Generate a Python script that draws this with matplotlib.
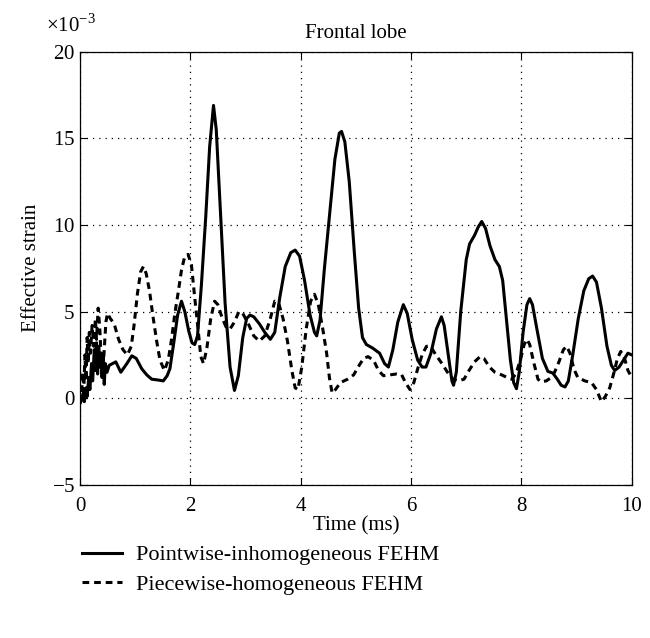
"""Frontal lobe effective strain: pointwise vs piecewise FEHM."""
import matplotlib
matplotlib.use("Agg")
import matplotlib.pyplot as plt
from matplotlib.ticker import ScalarFormatter

plt.rcParams.update({
    "font.family": "Liberation Serif",
    "mathtext.fontset": "custom",
    "mathtext.rm": "Liberation Serif",
    "font.size": 15,
})

# time (ms) and strain (x1e-3)
t_point = [0.0, 0.03, 0.06, 0.08, 0.11, 0.13, 0.16, 0.18, 0.21, 0.23, 0.26, 0.28, 0.30, 0.32,
           0.34, 0.36, 0.38, 0.40, 0.42, 0.44, 0.46, 0.49, 0.53, 0.65, 0.74, 0.85, 0.94, 1.02,
           1.12, 1.21, 1.30, 1.42, 1.51, 1.58, 1.63, 1.70, 1.77, 1.84, 1.90, 1.97, 2.03, 2.08,
           2.13, 2.20, 2.28, 2.35, 2.42, 2.47, 2.55, 2.63, 2.72, 2.80, 2.87, 2.95, 3.02, 3.08,
           3.15, 3.25, 3.35, 3.45, 3.53, 3.62, 3.72, 3.82, 3.90, 3.98, 4.07, 4.17, 4.25, 4.29,
           4.35, 4.43, 4.53, 4.62, 4.70, 4.74, 4.80, 4.88, 4.97, 5.05, 5.12, 5.19, 5.30, 5.43,
           5.52, 5.59, 5.67, 5.76, 5.86, 5.93, 6.02, 6.12, 6.20, 6.27, 6.36, 6.46, 6.55, 6.60,
           6.67, 6.74, 6.77, 6.82, 6.90, 7.00, 7.06, 7.15, 7.22, 7.28, 7.35, 7.43, 7.52, 7.60,
           7.66, 7.73, 7.80, 7.86, 7.91, 7.96, 8.03, 8.10, 8.15, 8.20, 8.28, 8.38, 8.48, 8.57,
           8.65, 8.72, 8.79, 8.85, 8.93, 9.03, 9.13, 9.22, 9.29, 9.36, 9.45, 9.55, 9.63, 9.69,
           9.77, 9.85, 9.93, 10.0]
s_point = [-0.3, -0.1, 0.3, -0.2, 0.6, 0.1, 1.2, 0.5, 2.0, 1.0, 2.8, 1.6, 3.2, 1.4,
           3.0, 1.8, 2.6, 1.2, 2.4, 0.8, 2.0, 1.5, 1.9, 2.1, 1.5, 2.0, 2.45, 2.3,
           1.7, 1.35, 1.1, 1.05, 1.0, 1.3, 1.7, 3.2, 4.8, 5.6, 5.0, 3.9, 3.2, 3.1,
           3.6, 6.5, 10.5, 14.5, 16.9, 15.5, 10.5, 5.5, 1.8, 0.45, 1.3, 3.5, 4.6, 4.8,
           4.7, 4.3, 3.8, 3.4, 3.8, 5.8, 7.6, 8.4, 8.55, 8.2, 6.8, 4.8, 3.8, 3.6,
           4.5, 7.5, 10.8, 13.8, 15.3, 15.4, 14.8, 12.5, 8.5, 5.2, 3.5, 3.1, 2.9, 2.6,
           2.0, 1.8, 2.8, 4.4, 5.4, 4.9, 3.4, 2.2, 1.8, 1.8, 2.6, 4.0, 4.7, 4.2,
           2.6, 1.0, 0.75, 1.5, 5.0, 8.0, 8.9, 9.4, 9.9, 10.2, 9.8, 8.8, 8.0, 7.6,
           6.8, 4.5, 2.2, 0.9, 0.55, 1.5, 3.8, 5.4, 5.75, 5.4, 4.0, 2.3, 1.55, 1.45,
           1.1, 0.75, 0.65, 1.0, 2.5, 4.6, 6.2, 6.9, 7.05, 6.7, 5.2, 3.0, 1.9, 1.6,
           1.8, 2.2, 2.6, 2.5]

t_piece = [0.0, 0.03, 0.05, 0.07, 0.09, 0.11, 0.13, 0.15, 0.17, 0.19, 0.22, 0.25, 0.28, 0.30,
           0.33, 0.36, 0.38, 0.41, 0.44, 0.47, 0.50, 0.55, 0.62, 0.70, 0.78, 0.86, 0.93, 0.98,
           1.04, 1.10, 1.15, 1.20, 1.26, 1.32, 1.39, 1.45, 1.53, 1.60, 1.66, 1.72, 1.78, 1.84,
           1.90, 1.96, 2.02, 2.08, 2.14, 2.19, 2.24, 2.30, 2.37, 2.44, 2.50, 2.58, 2.65, 2.72,
           2.80, 2.88, 2.95, 3.05, 3.15, 3.25, 3.35, 3.45, 3.53, 3.60, 3.68, 3.76, 3.84, 3.90,
           3.95, 4.02, 4.10, 4.18, 4.25, 4.32, 4.40, 4.47, 4.52, 4.57, 4.63, 4.72, 4.85, 4.96,
           5.06, 5.14, 5.22, 5.32, 5.41, 5.50, 5.62, 5.74, 5.83, 5.90, 5.98, 6.05, 6.12, 6.20,
           6.28, 6.35, 6.45, 6.56, 6.66, 6.76, 6.86, 6.96, 7.05, 7.15, 7.25, 7.32, 7.42, 7.52,
           7.64, 7.74, 7.82, 7.90, 7.98, 8.05, 8.10, 8.15, 8.22, 8.30, 8.35, 8.45, 8.52, 8.60,
           8.68, 8.76, 8.82, 8.88, 8.95, 9.02, 9.15, 9.27, 9.36, 9.45, 9.52, 9.60, 9.67, 9.74,
           9.80, 9.86, 9.93, 10.0]
s_piece = [-0.3, 0.2, 1.5, 0.4, 2.5, 1.0, 3.5, 2.0, 3.8, 2.6, 4.2, 3.0, 4.6, 3.4,
           5.2, 4.0, 2.6, 1.2, 2.8, 4.4, 4.9, 4.6, 4.3, 3.4, 2.8, 2.5, 3.0, 4.2,
           6.0, 7.3, 7.6, 7.2, 6.2, 4.8, 3.3, 2.2, 1.6, 2.2, 3.4, 4.9, 6.1, 7.4,
           8.2, 8.3, 7.7, 5.8, 4.0, 2.4, 2.0, 2.9, 4.6, 5.6, 5.4, 4.6, 4.1, 4.0,
           4.4, 5.0, 4.9, 4.3, 3.6, 3.3, 3.6, 4.6, 5.6, 5.5, 4.6, 3.3, 1.6, 0.6,
           0.5, 1.8, 4.0, 5.6, 6.0, 5.4, 4.0, 2.6, 1.2, 0.3, 0.5, 0.9, 1.1, 1.35,
           1.9, 2.3, 2.4, 2.2, 1.6, 1.3, 1.35, 1.4, 1.35, 0.9, 0.5, 0.9, 1.7, 2.5,
           3.0, 3.0, 2.5, 2.0, 1.5, 1.1, 1.0, 1.1, 1.6, 2.1, 2.4, 2.3, 1.8, 1.5,
           1.35, 1.2, 1.1, 1.4, 2.2, 3.1, 3.4, 3.1, 2.1, 1.1, 0.95, 1.0, 1.15, 1.5,
           2.1, 2.8, 3.0, 2.6, 1.7, 1.2, 1.0, 0.9, 0.5, -0.2, 0.1, 0.6, 1.4, 2.3,
           2.7, 2.4, 1.6, 1.2]

x_ticks = [0, 2, 4, 6, 8, 10]
y_ticks = [-5, 0, 5, 10, 15, 20]

fig = plt.figure(figsize=(6.5, 6.38), dpi=100)
ax = fig.add_axes([0.123, 0.24, 0.849, 0.679])

ax.plot(t_point, [v * 1e-3 for v in s_point], color="black", linewidth=2.2,
        solid_joinstyle="round", label="Pointwise-inhomogeneous FEHM")
ax.plot(t_piece, [v * 1e-3 for v in s_piece], color="black", linewidth=2.2,
        linestyle=(0, (2.2, 1.6)), label="Piecewise-homogeneous FEHM")

ax.set_xlim(0, 10)
ax.set_ylim(-5e-3, 20e-3)
ax.set_xticks(x_ticks)
ax.set_yticks([v * 1e-3 for v in y_ticks])
fmt = ScalarFormatter(useMathText=True)
fmt.set_powerlimits((-3, -3))
ax.yaxis.set_major_formatter(fmt)
# draw the multiplier ourselves so it sits above the "20" label like the original
ax.yaxis.get_offset_text().set_visible(False)
ax.text(-0.062, 1.035, r"$\times10^{-3}$", transform=ax.transAxes, fontsize=15,
        ha="left", va="bottom")

ax.grid(True, color="black", linestyle=(0, (1, 4)), linewidth=0.9)
ax.tick_params(direction="in", top=True, right=True, length=5, width=0.8, labelsize=15)
ax.tick_params(axis="x", pad=9)
for sp in ax.spines.values():
    sp.set_linewidth(0.9)

ax.set_title("Frontal lobe", fontsize=15, pad=10)
ax.set_xlabel("Time (ms)", fontsize=15, labelpad=0)
ax.set_ylabel("Effective strain", fontsize=15, labelpad=8)

fig.legend(loc="upper left", bbox_to_anchor=(0.113, 0.16), frameon=False, fontsize=16,
           handlelength=1.8, handletextpad=0.6, labelspacing=0.42, borderaxespad=0)

fig.savefig("out.png", dpi=100)
